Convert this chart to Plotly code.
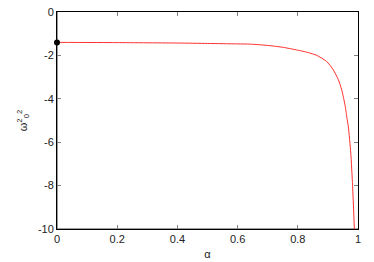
import plotly.graph_objects as go

alpha = [0.0, 0.2, 0.4, 0.5, 0.6, 0.641, 0.7, 0.752, 0.807, 0.835, 0.863, 0.896,
         0.918, 0.935, 0.946, 0.957, 0.964, 0.968, 0.976, 0.982, 0.988]
omega2 = [-1.40, -1.41, -1.43, -1.45, -1.47, -1.48, -1.54, -1.63, -1.78, -1.87, -2.0, -2.28,
          -2.67, -3.13, -3.59, -4.3, -4.95, -5.3, -6.5, -8.0, -10.0]
point_x = [0.0]
point_y = [-1.40]
x_ticks = [0, 0.2, 0.4, 0.6, 0.8, 1]
x_labels = ["0", "0.2", "0.4", "0.6", "0.8", "1"]
y_ticks = [0, -2, -4, -6, -8, -10]
y_labels = ["0", "-2", "-4", "-6", "-8", "-10"]

FONT = "Liberation Sans, Arial, sans-serif"

fig = go.Figure()
fig.add_trace(go.Scatter(x=alpha, y=omega2, mode="lines",
                         line=dict(color="#ff3030", width=1, shape="spline", smoothing=0.6),
                         showlegend=False, hoverinfo="skip"))

axis_common = dict(showgrid=False, zeroline=False, showline=True, linecolor="black",
                   linewidth=1, mirror="ticks", ticks="inside", ticklen=4,
                   tickcolor="#808080", tickwidth=1, automargin=False,
                   tickfont=dict(family=FONT, size=11, color="#222"))

fig.update_xaxes(range=[0, 1], tickvals=x_ticks, ticktext=x_labels,
                 title=dict(text="α", font=dict(family=FONT, size=11, color="#222"),
                            standoff=6),
                 **axis_common)
fig.update_yaxes(range=[-10, 0], tickvals=y_ticks, ticktext=y_labels,
                 title=dict(text="ω<sup>2</sup><sub>0</sub><sup>2</sup>",
                            font=dict(family=FONT, size=11, color="#222"),
                            standoff=8),
                 **axis_common)

# gray left and bottom border (gnuplot style), drawn under the traces
fig.add_shape(type="line", xref="paper", yref="paper", x0=0, x1=1, y0=0, y1=0,
              line=dict(color="#808080", width=1.6), layer="between")
fig.add_shape(type="line", xref="paper", yref="paper", x0=0, x1=0, y0=0, y1=1,
              line=dict(color="#808080", width=1.6), layer="between")

fig.add_trace(go.Scatter(x=point_x, y=point_y, mode="markers",
                         marker=dict(color="black", size=6),
                         showlegend=False, hoverinfo="skip", cliponaxis=False))

fig.update_layout(width=374, height=262, margin=dict(l=57, r=16, t=12, b=33, autoexpand=False),
                  paper_bgcolor="white", plot_bgcolor="white")
fig.update_xaxes(layer="below traces")
fig.update_yaxes(layer="below traces")
fig.write_html("out.html", config={"displayModeBar": False},
               post_script="document.body.style.margin='0';document.body.style.overflow='hidden';")
